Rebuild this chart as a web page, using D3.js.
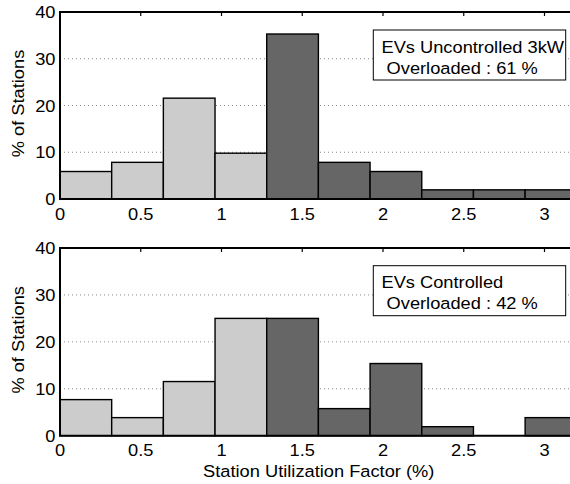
<!DOCTYPE html>
<html>
<head>
<meta charset="utf-8">
<script src="https://cdn.jsdelivr.net/npm/d3@7"></script>
<style>
  html, body { margin: 0; padding: 0; background: #fff; }
  svg { display: block; }
  text { font-family: "Liberation Sans", Arial, Helvetica, sans-serif; fill: #000; font-size: 17px; }
</style>
</head>
<body>
<svg id="chart" width="570" height="484"></svg>
<script>
// Histogram bin edges of the station utilization factor
const binEdges = [0, 0.32, 0.64, 0.96, 1.28, 1.6, 1.92, 2.24, 2.56, 2.88, 3.2];
// Share of stations (%) in each bin
const uncontrolledPct = [5.88, 7.84, 21.57, 9.8, 35.29, 7.84, 5.88, 1.96, 1.96, 1.96];
const controlledPct = [7.69, 3.85, 11.54, 25, 25, 5.77, 15.38, 1.92, 0, 3.85];
// Bins from this lower edge upward count as overloaded
const overloadEdge = 1.28;
const xTicks = [0, 0.5, 1, 1.5, 2, 2.5, 3];
const yTicks = [0, 10, 20, 30, 40];
const panelTitles = ["EVs Uncontrolled 3kW", "EVs Controlled"];
const overloadedShare = [61, 42];

const svg = d3.select("#chart");
const x = d3.scaleLinear().domain([0, 3.2]).range([60, 576.8]);
const WIDEN = 1.075; // slightly wider glyphs along the writing direction

// text placed at (tx, ty), optionally rotated, widened along its baseline
function label(parent, tx, ty, str, anchor, rot) {
  return parent.append("text")
    .attr("transform", `translate(${tx},${ty}) rotate(${rot || 0}) scale(${WIDEN},1)`)
    .attr("text-anchor", anchor || "start")
    .attr("xml:space", "preserve")
    .style("white-space", "pre")
    .text(str);
}

const panels = [
  { values: uncontrolledPct, top: 12, bottom: 199, legendTop: 30 },
  { values: controlledPct, top: 248, bottom: 435.7, legendTop: 265.7 }
];

panels.forEach((p, pi) => {
  const g = svg.append("g");
  const y = d3.scaleLinear().domain([0, 40]).range([p.bottom, p.top]);

  // dotted horizontal grid
  g.append("g").selectAll("line")
    .data(yTicks.filter(t => t > 0 && t < 40))
    .join("line")
    .attr("x1", x(0)).attr("x2", 570)
    .attr("y1", d => y(d)).attr("y2", d => y(d))
    .attr("stroke", "#888").attr("stroke-width", 1)
    .attr("stroke-dasharray", "1,3");

  // histogram bars
  const bins = p.values.map((v, i) => ({ v, x0: binEdges[i], x1: binEdges[i + 1] }))
    .filter(b => b.v > 0);
  g.append("g").selectAll("rect")
    .data(bins)
    .join("rect")
    .attr("x", d => x(d.x0))
    .attr("width", d => x(d.x1) - x(d.x0))
    .attr("y", d => y(d.v))
    .attr("height", d => y(0) - y(d.v))
    .attr("fill", d => d.x0 >= overloadEdge ? "#666666" : "#cccccc")
    .attr("stroke", "#000").attr("stroke-width", 1.4);

  // box: left, top, bottom lines
  const frame = g.append("g").attr("stroke", "#000").attr("stroke-width", 2).attr("fill", "none");
  frame.append("line").attr("x1", x(0)).attr("x2", x(0)).attr("y1", p.top).attr("y2", p.bottom);
  frame.append("line").attr("x1", x(0) - 1).attr("x2", 576).attr("y1", p.top).attr("y2", p.top);
  frame.append("line").attr("x1", x(0) - 1).attr("x2", 576).attr("y1", p.bottom).attr("y2", p.bottom);

  // inward ticks on top edge
  g.append("g").selectAll("line")
    .data(xTicks.filter(t => t > 0))
    .join("line")
    .attr("x1", d => x(d)).attr("x2", d => x(d))
    .attr("y1", p.top).attr("y2", p.top + 4)
    .attr("stroke", "#000").attr("stroke-width", 1.2);

  // x tick labels
  xTicks.forEach(t => label(g, x(t), p.bottom + 20.5, d3.format("")(t), "middle"));

  // y tick labels
  yTicks.forEach(t => label(g, 55.5, y(t) + 6, String(t), "end"));

  // y axis title
  label(g, 24, (p.top + p.bottom) / 2 - 2, "% of Stations", "middle", -90);

  // legend box
  const lg = g.append("g");
  lg.append("rect")
    .attr("x", 373.3).attr("y", p.legendTop)
    .attr("width", 192.4).attr("height", 50)
    .attr("fill", "#fff").attr("stroke", "#000").attr("stroke-width", 1);
  label(lg, 381.5, p.legendTop + 22.5, panelTitles[pi]);
  label(lg, 381.5, p.legendTop + 43.5, ` Overloaded : ${overloadedShare[pi]} %`);
});

// x axis title
label(svg, 318.7, 477, "Station Utilization Factor (%)", "middle");
</script>
</body>
</html>
